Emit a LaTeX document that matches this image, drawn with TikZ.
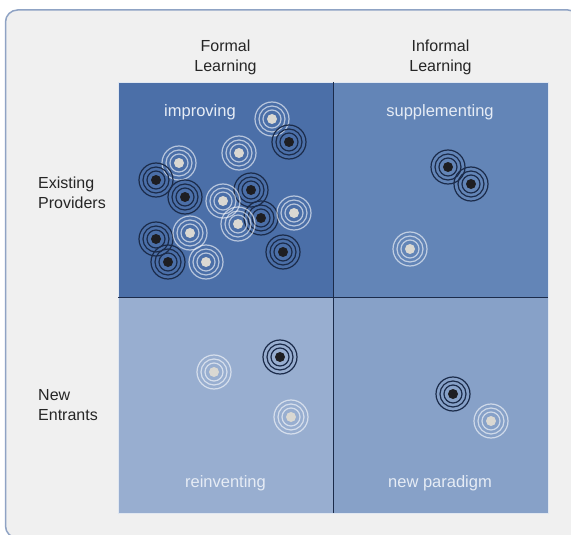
\documentclass[tikz,border=0pt]{standalone}
\usepackage{fontspec}
\setmainfont{Liberation Sans}
\usepackage{xcolor}
\definecolor{blue1}{HTML}{4B6FA8}
\definecolor{blue2}{HTML}{6385B7}
\definecolor{blue3}{HTML}{98AED0}
\definecolor{blue4}{HTML}{87A1C8}
\definecolor{navy1}{HTML}{1B2B4A}
\definecolor{black1}{HTML}{1E1E22}
\definecolor{dot1}{HTML}{DAD8D2}
\definecolor{gray1}{HTML}{F0F0F0}
\definecolor{frame1}{HTML}{8FA3C4}
\definecolor{text1}{HTML}{262626}
\definecolor{text2}{HTML}{E6ECF5}
\newcommand{\lighttarget}[1]{%
\draw[white,opacity=0.6,line width=1.2pt] (#1) circle (9pt) (#1) circle (13pt) (#1) circle (17pt);
\fill[dot1] (#1) circle (5pt);}
\newcommand{\darktarget}[1]{%
\draw[navy1,line width=1.2pt] (#1) circle (9pt) (#1) circle (13pt) (#1) circle (17pt);
\fill[black1] (#1) circle (5pt);}

\begin{document}
\begin{tikzpicture}[x=1pt,y=-1pt,
  head/.style={align=center,inner sep=0pt,text=text1,font=\fontsize{16}{20}\selectfont},
  side/.style={align=left,anchor=west,inner sep=0pt,text=text1,font=\fontsize{16}{20}\selectfont},
  quad/.style={anchor=base,inner sep=0pt,text=text2,font=\fontsize{16.5}{20}\selectfont}]

\useasboundingbox (0,0) rectangle (571,535);
\clip (0,0) rectangle (571,535);

\draw[frame1,line width=1.5pt,fill=gray1,rounded corners=12pt] (5.5,10) rectangle (580,538);

\fill[blue1] (118,82) rectangle (333,297);
\fill[blue2] (333,82) rectangle (548,297);
\fill[blue3] (118,297) rectangle (333,513);
\fill[blue4] (333,297) rectangle (548,513);
\draw[white!70!blue3,line width=0.8pt] (118,82) rectangle (548,513);
\draw[navy1,line width=1pt] (333,82) -- (333,513);
\draw[navy1,line width=1pt] (118,297) -- (548,297);

\node[head] (formal) at (225.5,57) {Formal\\Learning};
\node[head] (informal) at (440.5,57) {Informal\\Learning};
\node[side] (existing) at (38,193) {Existing\\Providers};
\node[side] (entrants) at (38,405) {New\\Entrants};

\node[quad] (improving) at (200,117) {improving};
\node[quad] (supplementing) at (440,117) {supplementing};
\node[quad] (reinventing) at (225.5,487) {reinventing};
\node[quad] (paradigm) at (440,487) {new paradigm};

\lighttarget{272,119}
\darktarget{289,142}
\lighttarget{239,153}
\lighttarget{179,163}
\darktarget{156,180}
\darktarget{185,197}
\darktarget{251,190}
\lighttarget{223,201}
\darktarget{261,218}
\lighttarget{238,224}
\lighttarget{294,213}
\darktarget{156,239}
\lighttarget{190,233}
\darktarget{168,262}
\lighttarget{206,262}
\darktarget{283,252}

\darktarget{448,167}
\darktarget{471,184}
\lighttarget{410,249}

\lighttarget{214,372}
\darktarget{280,357}
\lighttarget{291,417}

\darktarget{453,394}
\lighttarget{491,421}

\end{tikzpicture}
\end{document}
